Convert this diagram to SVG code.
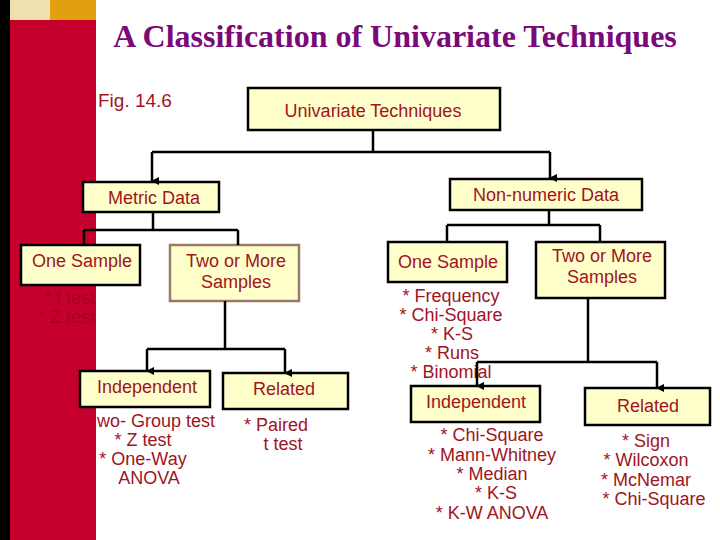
<svg xmlns="http://www.w3.org/2000/svg" width="720" height="540" viewBox="0 0 720 540">
<defs>
<marker id="arr" markerWidth="8" markerHeight="8" refX="4" refY="7" orient="auto-start-reverse" markerUnits="userSpaceOnUse" viewBox="0 0 8 8">
<path d="M0,0 L8,0 L4,8 Z" fill="#000"/>
</marker>
<style>
.box{fill:#ffffcc;stroke:#000;stroke-width:2.5}
.boxb{fill:#ffffcc;stroke:#9a7a64;stroke-width:2.5}
.lbl{font-family:"Liberation Sans",Arial,sans-serif;font-size:18px;fill:#a0141e;text-anchor:middle}
.hid{font-family:"Liberation Sans",Arial,sans-serif;font-size:18px;fill:#a8001c;text-anchor:end}
.con{fill:none;stroke:#000;stroke-width:2.5}
</style>
</defs>
<rect width="720" height="540" fill="#fff"/>
<g id="sidebar">
<rect x="0" y="0" width="10" height="540" fill="#000"/>
<rect x="10" y="0" width="40" height="20" fill="#f0e0b0"/>
<rect x="50" y="0" width="46" height="20" fill="#e0a010"/>
<rect x="10" y="20" width="86" height="520" fill="#c6002c"/>
</g>
<text x="395" y="47" font-family="Liberation Serif,'Times New Roman',serif" font-size="32" font-weight="bold" fill="#7a0a78" text-anchor="middle">A Classification of Univariate Techniques</text>
<text x="98" y="107" font-family="Liberation Sans,Arial,sans-serif" font-size="19" fill="#a0141e">Fig. 14.6</text>

<g id="n-univariate"><rect class="box" x="248" y="88" width="252" height="42"/><text class="lbl" x="373" y="117">Univariate Techniques</text></g>
<g id="n-metric"><rect class="box" x="83" y="182" width="136" height="30"/><text class="lbl" x="154" y="204">Metric Data</text></g>
<g id="n-nonnumeric"><rect class="box" x="450" y="179" width="192" height="31"/><text class="lbl" x="546" y="201">Non-numeric Data</text></g>

<g id="n-m-one"><rect class="box" x="21" y="245" width="119" height="40"/><text class="lbl" x="82" y="267">One Sample</text>
<text class="hid" x="95" y="304">* t test</text>
<text class="hid" x="95" y="323">* Z test</text></g>
<g id="n-m-two"><rect class="boxb" x="170" y="245" width="129" height="56"/><text class="lbl" x="236" y="267">Two or More</text><text class="lbl" x="236" y="288">Samples</text></g>

<g id="n-m-ind"><rect class="box" x="80" y="371" width="130" height="36"/><text class="lbl" x="147" y="393">Independent</text>
<text class="lbl" x="97" y="427" style="text-anchor:start">wo- Group test</text>
<text class="lbl" x="143" y="446">* Z test</text>
<text class="lbl" x="143" y="465">* One-Way</text>
<text class="lbl" x="149" y="484">ANOVA</text></g>
<g id="n-m-rel"><rect class="box" x="223" y="373" width="125" height="36"/><text class="lbl" x="284" y="395">Related</text>
<text class="lbl" x="276" y="431">* Paired</text>
<text class="lbl" x="283" y="450">t test</text></g>

<g id="n-n-one"><rect class="box" x="388" y="242" width="119" height="40"/><text class="lbl" x="448" y="268">One Sample</text>
<text class="lbl" x="451" y="302">* Frequency</text>
<text class="lbl" x="451" y="321">* Chi-Square</text>
<text class="lbl" x="452" y="340">* K-S</text>
<text class="lbl" x="452" y="359">* Runs</text>
<text class="lbl" x="451" y="378">* Binomial</text></g>
<g id="n-n-two"><rect class="box" x="536" y="242" width="129" height="56"/><text class="lbl" x="602" y="262">Two or More</text><text class="lbl" x="602" y="283">Samples</text></g>

<g id="n-n-ind"><rect class="box" x="411" y="386" width="129" height="36"/><text class="lbl" x="476" y="408">Independent</text>
<text class="lbl" x="492" y="441">* Chi-Square</text>
<text class="lbl" x="492" y="461">* Mann-Whitney</text>
<text class="lbl" x="492" y="480">* Median</text>
<text class="lbl" x="496" y="499">* K-S</text>
<text class="lbl" x="492" y="519">* K-W ANOVA</text></g>
<g id="n-n-rel"><rect class="box" x="585" y="388" width="125" height="37"/><text class="lbl" x="648" y="412">Related</text>
<text class="lbl" x="646" y="447">* Sign</text>
<text class="lbl" x="646" y="466">* Wilcoxon</text>
<text class="lbl" x="646" y="486">* McNemar</text>
<text class="lbl" x="654" y="505">* Chi-Square</text></g>

<g id="connectors">
<path class="con" d="M373,130 V152 M152,152 H550"/>
<path class="con" d="M152,152 V181" marker-end="url(#arr)"/>
<path class="con" d="M550,152 V178" marker-end="url(#arr)"/>
<path class="con" d="M153,212 V230 M84,230 H238 M84,230 V245 M238,230 V245"/>
<path class="con" d="M225,301 V349 M147,349 H285"/>
<path class="con" d="M147,349 V371" marker-end="url(#arr)"/>
<path class="con" d="M285,349 V373" marker-end="url(#arr)"/>
<path class="con" d="M549,210 V225 M447,225 H600 M447,225 V242 M600,225 V242"/>
<path class="con" d="M588,298 V362 M477,362 H657"/>
<path class="con" d="M477,362 V386" marker-end="url(#arr)"/>
<path class="con" d="M657,362 V388" marker-end="url(#arr)"/>
</g>
</svg>
